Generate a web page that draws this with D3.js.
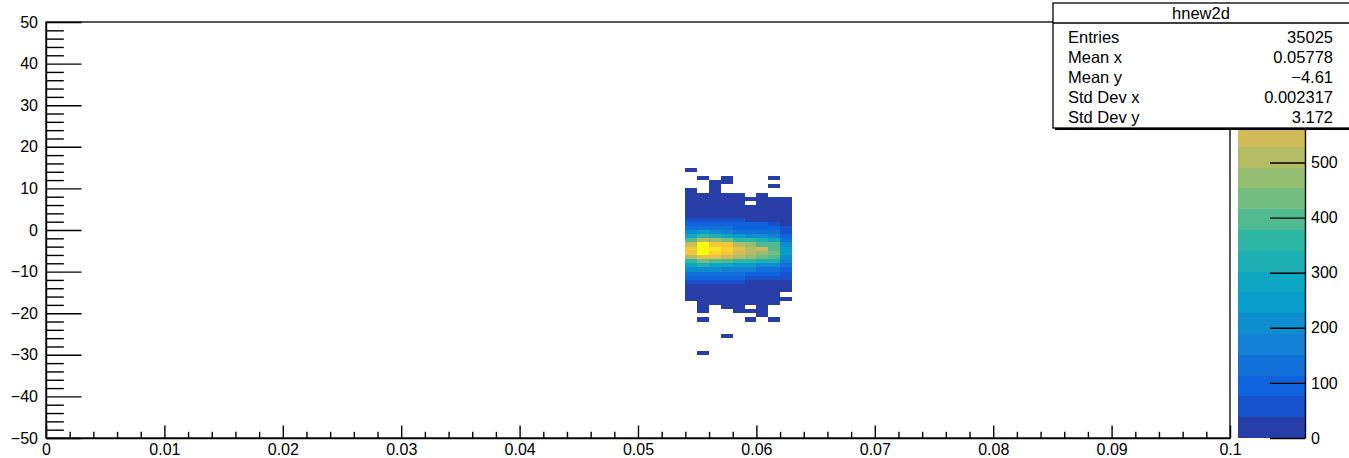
<!DOCTYPE html>
<html><head><meta charset="utf-8">
<script src="https://cdn.jsdelivr.net/npm/d3@7"></script>
<style>
body{margin:0;background:#fff;}
svg{display:block;font-family:"Liberation Sans",Arial,Helvetica,sans-serif;}
</style>
</head><body>
<svg id="c" width="1349" height="458"></svg>
<script>
// ---------------- data ----------------
const histName = "hnew2d";
const xBinLow = [0.054,0.055,0.056,0.057,0.058,0.059,0.060,0.061,0.062];
const xBinWidth = 0.001;
const yBinWidth = 1;
const yBinLow = [14,13,12,11,10,9,8,7,6,5,4,3,2,1,0,-1,-2,-3,-4,-5,-6,-7,-8,-9,-10,-11,-12,-13,-14,-15,-16,-17,-18,-19,-20,-21,-22,-23,-24,-25,-26,-27,-28,-29,-30];
// counts[row][col] : row follows yBinLow, col follows xBinLow
const counts = [
 [3,0,0,0,0,0,0,0,0],
 [0,0,0,0,0,0,0,0,0],
 [0,2,0,1,0,0,0,1,0],
 [0,0,2,1,0,0,0,0,0],
 [0,0,3,0,0,0,0,2,0],
 [4,0,4,0,0,0,0,0,0],
 [6,5,7,5,4,0,6,0,0],
 [10,9,11,8,7,5,8,6,4],
 [15,14,16,12,11,0,12,9,7],
 [22,21,23,18,17,14,16,13,10],
 [28,30,29,25,22,19,21,18,14],
 [35,36,34,30,27,24,26,22,17],
 [50,55,48,45,40,33,32,30,22],
 [95,100,90,85,80,78,76,75,30],
 [135,140,130,128,110,105,100,98,45],
 [205,240,190,175,140,135,130,125,60],
 [285,375,320,290,250,215,205,180,95],
 [410,510,470,435,360,350,320,285,135],
 [545,745,640,620,525,470,400,380,205],
 [620,755,680,655,585,505,560,410,245],
 [615,740,660,625,545,500,470,430,240],
 [505,600,585,545,500,465,435,395,205],
 [375,430,400,390,355,350,320,310,170],
 [280,315,285,275,245,240,210,200,130],
 [195,210,190,180,170,165,150,145,90],
 [130,140,125,120,115,110,100,95,60],
 [80,90,82,78,76,70,65,60,40],
 [50,55,48,45,42,35,33,30,22],
 [30,32,28,26,24,20,19,17,12],
 [18,20,17,15,14,12,11,10,7],
 [10,12,10,9,8,7,6,5,0],
 [4,7,6,5,4,4,3,3,2],
 [0,4,3,3,3,2,2,2,0],
 [0,3,0,2,2,0,2,0,0],
 [0,2,0,0,1,1,1,0,0],
 [0,0,0,0,0,0,1,0,0],
 [0,1,0,0,0,1,0,1,0],
 [0,0,0,0,0,0,0,0,0],
 [0,0,0,0,0,0,0,0,0],
 [0,0,0,0,0,0,0,0,0],
 [0,0,0,1,0,0,0,0,0],
 [0,0,0,0,0,0,0,0,0],
 [0,0,0,0,0,0,0,0,0],
 [0,0,0,0,0,0,0,0,0],
 [0,1,0,0,0,0,0,0,0]
];
const xTicks = [0,0.01,0.02,0.03,0.04,0.05,0.06,0.07,0.08,0.09,0.1];
const xTickLabels = ["0","0.01","0.02","0.03","0.04","0.05","0.06","0.07","0.08","0.09","0.1"];
const yTicks = [-50,-40,-30,-20,-10,0,10,20,30,40,50];
const yTickLabels = ["\u221250","\u221240","\u221230","\u221220","\u221210","0","10","20","30","40","50"];
const zTicks = [0,100,200,300,400,500];
const zTickLabels = ["0","100","200","300","400","500"];
const statLabels = ["Entries","Mean x","Mean y","Std Dev x","Std Dev y"];
const statValues = ["35025","0.05778","\u22124.61","0.002317","3.172"];

// ---------------- palette (ROOT kBird) ----------------
const birdStops = [0.0,0.125,0.25,0.375,0.5,0.625,0.75,0.875,1.0];
const birdR = [0.2082,0.0592,0.0780,0.0232,0.1802,0.5301,0.8186,0.9956,0.9764];
const birdG = [0.1664,0.3599,0.5041,0.6419,0.7178,0.7492,0.7328,0.7862,0.9832];
const birdB = [0.5293,0.8684,0.8385,0.7914,0.6425,0.4662,0.3499,0.1968,0.0539];
const bird = d3.scaleLinear().domain(birdStops)
  .range(birdStops.map((s,i)=>d3.rgb(birdR[i]*255,birdG[i]*255,birdB[i]*255)))
  .interpolate(d3.interpolateRgb);
const nLevels = 20, nColors = 255;
const bandColor = b => bird(Math.floor((b+0.99)*nColors/nLevels)/(nColors-1));

// ---------------- layout ----------------
const L=46, R=1230, T=22, B=438;
const svg = d3.select("#c");
const x = d3.scaleLinear().domain([0,0.1]).range([L,R]);
const y = d3.scaleLinear().domain([-50,50]).range([B,T]);
const zmin = 0, zmax = d3.max(counts.flat());
const z = d3.scaleLinear().domain([zmin,zmax]).range([B,T]);
const band = v => Math.min(nLevels-1, Math.floor(0.01 + (v-zmin)*nLevels/(zmax-zmin)));

// cells
const cells = [];
counts.forEach((row,ri)=>row.forEach((v,ci)=>{ if(v>0) cells.push({x0:xBinLow[ci], y0:yBinLow[ri], v}); }));
svg.append("g").attr("shape-rendering","crispEdges")
  .selectAll("rect").data(cells).join("rect")
  .attr("x",d=>x(d.x0)).attr("width",d=>x(d.x0+xBinWidth)-x(d.x0))
  .attr("y",d=>y(d.y0+yBinWidth)).attr("height",d=>y(d.y0)-y(d.y0+yBinWidth))
  .attr("fill",d=>bandColor(band(d.v)));

// frame
svg.append("rect").attr("x",L).attr("y",T).attr("width",R-L).attr("height",B-T)
  .attr("fill","none").attr("stroke","#000").attr("stroke-width",1.3);

const fontSize = 16;
function styleAxis(g){
  g.attr("font-size",fontSize).attr("font-family","Liberation Sans, Arial, sans-serif").style("color","#000");
  g.selectAll("text").attr("fill","#000");
  g.selectAll("line").attr("stroke-width",1.4);
  g.selectAll(".domain").attr("stroke-width",1.4);
}
// x axis
const xMinor = d3.range(0,0.1001,0.002).filter(v=>Math.abs(v*100-Math.round(v*100))>1e-6);
svg.append("g").attr("transform",`translate(0,${B})`)
  .call(d3.axisBottom(x).tickValues(xMinor).tickSizeInner(-6.2).tickSizeOuter(0).tickFormat(""))
  .call(g=>g.select(".domain").remove()).call(styleAxis);
svg.append("g").attr("transform",`translate(0,${B})`)
  .call(d3.axisBottom(x).tickValues(xTicks).tickSizeInner(-12.5).tickSizeOuter(0).tickPadding(5.5)
        .tickFormat((d,i)=>xTickLabels[i]))
  .call(styleAxis);
// y axis
const yMinor = d3.range(-50,50.001,2).filter(v=>v%10!==0);
svg.append("g").attr("transform",`translate(${L},0)`)
  .call(d3.axisLeft(y).tickValues(yMinor).tickSizeInner(-17.8).tickSizeOuter(0).tickFormat(""))
  .call(g=>g.select(".domain").remove()).call(styleAxis);
svg.append("g").attr("transform",`translate(${L},0)`)
  .call(d3.axisLeft(y).tickValues(yTicks).tickSizeInner(-35.5).tickSizeOuter(0).tickPadding(8)
        .tickFormat((d,i)=>yTickLabels[i]))
  .call(styleAxis);

// palette
const PX0=1238, PX1=1305;
const levels = d3.range(nLevels);
svg.append("g").attr("shape-rendering","crispEdges")
  .selectAll("rect").data(levels).join("rect")
  .attr("x",PX0).attr("width",PX1-PX0)
  .attr("y",b=>z(zmin+(b+1)*(zmax-zmin)/nLevels))
  .attr("height",b=>z(zmin+b*(zmax-zmin)/nLevels)-z(zmin+(b+1)*(zmax-zmin)/nLevels))
  .attr("fill",b=>bandColor(b));
svg.append("g").attr("transform",`translate(${PX1},0)`)
  .call(d3.axisRight(z).tickValues(zTicks).tickSizeInner(-35).tickSizeOuter(0).tickPadding(6)
        .tickFormat((d,i)=>zTickLabels[i]))
  .call(styleAxis);

// stats box
const SX=1053, SY=3, SW=300, SH=125;
svg.append("rect").attr("x",SX+2).attr("y",SY+2).attr("width",SW).attr("height",SH).attr("fill","#000");
svg.append("rect").attr("x",SX).attr("y",SY).attr("width",SW).attr("height",SH)
  .attr("fill","#fff").attr("stroke","#000").attr("stroke-width",1.3);
const sepY = 23;
svg.append("line").attr("x1",SX).attr("x2",SX+SW).attr("y1",sepY).attr("y2",sepY)
  .attr("stroke","#000").attr("stroke-width",1.3);
const sf = 16.5;
svg.append("text").attr("x",1201).attr("y",(SY+sepY)/2+sf*0.36).attr("text-anchor","middle")
  .attr("font-size",sf).attr("fill","#000").text(histName);
const rowY = i => 37.5 + 20*i + sf*0.36;
const rows = svg.append("g").selectAll("g").data(statLabels).join("g");
rows.append("text").attr("x",1068).attr("y",(d,i)=>rowY(i))
  .attr("font-size",sf).attr("fill","#000").text(d=>d);
rows.append("text").attr("x",1333).attr("y",(d,i)=>rowY(i))
  .attr("text-anchor","end").attr("font-size",sf).attr("fill","#000").text((d,i)=>statValues[i]);
</script>
</body></html>
